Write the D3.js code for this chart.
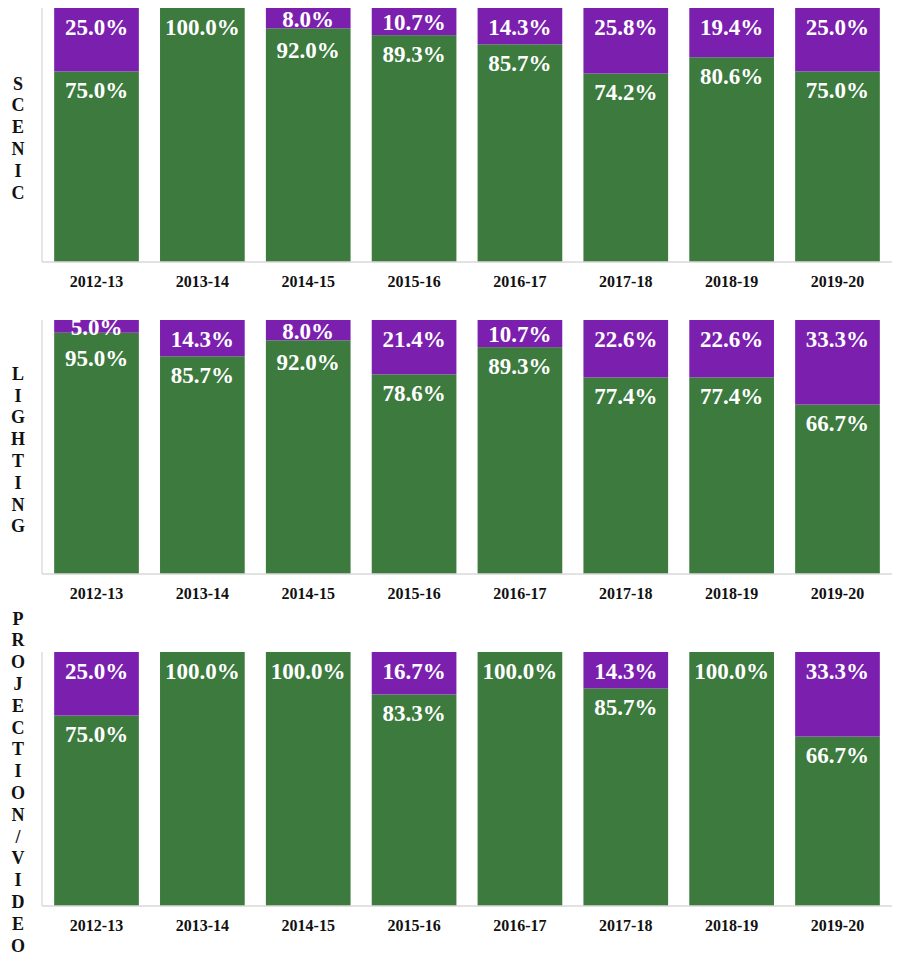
<!DOCTYPE html>
<html>
<head>
<meta charset="utf-8">
<script src="https://cdn.jsdelivr.net/npm/d3@7"></script>
<style>
  html, body { margin: 0; padding: 0; background: #ffffff; }
  svg { display: block; }
  text { font-family: "Liberation Serif", "Times New Roman", serif; font-weight: bold; }
</style>
</head>
<body>
<svg id="chart" width="898" height="956"></svg>
<script>
const years = ["2012-13", "2013-14", "2014-15", "2015-16", "2016-17", "2017-18", "2018-19", "2019-20"];
const panelNames = ["SCENIC", "LIGHTING", "PROJECTION/VIDEO"];
const scenicGreen = [75.0, 100.0, 92.0, 89.3, 85.7, 74.2, 80.6, 75.0];
const scenicPurple = [25.0, 0, 8.0, 10.7, 14.3, 25.8, 19.4, 25.0];
const lightingGreen = [95.0, 85.7, 92.0, 78.6, 89.3, 77.4, 77.4, 66.7];
const lightingPurple = [5.0, 14.3, 8.0, 21.4, 10.7, 22.6, 22.6, 33.3];
const projectionGreen = [75.0, 100.0, 100.0, 83.3, 100.0, 85.7, 100.0, 66.7];
const projectionPurple = [25.0, 0, 0, 16.7, 0, 14.3, 0, 33.3];

const greenSeries = [scenicGreen, lightingGreen, projectionGreen];
const purpleSeries = [scenicPurple, lightingPurple, projectionPurple];

const GREEN = "#3c7a3e";
const PURPLE = "#7b1fae";
const AXIS = "#d9d9d9";

const svg = d3.select("#chart");
const panelTops = [8, 320, 652];
const plotH = 254;
const x = d3.scaleBand().domain(years).range([42, 892]).paddingInner(0.2).paddingOuter(0.115);

panelNames.forEach((name, pi) => {
  const top = panelTops[pi];
  const base = top + plotH;
  const y = d3.scaleLinear().domain([0, 100]).range([base, top]);
  const g = svg.append("g");

  // axis lines
  g.append("line").attr("x1", 42).attr("x2", 42).attr("y1", top).attr("y2", base)
    .attr("stroke", AXIS).attr("stroke-width", 1.3);

  const data = years.map((yr, i) => ({ yr, green: greenSeries[pi][i], purple: purpleSeries[pi][i] }));

  // green bars
  g.selectAll("rect.green").data(data).enter().append("rect")
    .attr("class", "green")
    .attr("x", d => x(d.yr)).attr("width", x.bandwidth())
    .attr("y", d => y(d.green)).attr("height", d => y(0) - y(d.green))
    .attr("fill", GREEN);
  // purple bars
  g.selectAll("rect.purple").data(data.filter(d => d.purple > 0)).enter().append("rect")
    .attr("class", "purple")
    .attr("x", d => x(d.yr)).attr("width", x.bandwidth())
    .attr("y", d => y(d.green + d.purple)).attr("height", d => y(d.green) - y(d.green + d.purple))
    .attr("fill", PURPLE);

  // x axis
  const xAxis = d3.axisBottom(x).tickSize(0).tickPadding(0);
  const ax = g.append("g").attr("transform", `translate(0,${base})`).call(xAxis);
  ax.select(".domain").attr("stroke", AXIS).attr("stroke-width", 1.3).attr("d", `M42,0H892`);
  ax.selectAll("text").attr("font-size", 16).attr("fill", "#111")
    .attr("font-family", "'Liberation Serif', 'Times New Roman', serif").attr("font-weight", "bold")
    .attr("dy", null).attr("y", 19).attr("dominant-baseline", "central");

  // labels
  data.forEach(d => {
    const cx = x(d.yr) + x.bandwidth() / 2;
    let pY = null;
    if (d.purple > 0) {
      const pTop = y(d.green + d.purple);
      const h = y(d.green) - pTop;
      pY = pTop + Math.min(19, h / 2 + 1);
      g.append("text").attr("x", cx).attr("y", pY)
        .attr("text-anchor", "middle").attr("dominant-baseline", "central")
        .attr("font-size", 23).attr("fill", "#ffffff")
        .text(d.purple.toFixed(1) + "%");
    }
    const gTop = y(d.green);
    let gY = gTop + 19;
    if (pY !== null) gY = Math.max(gY, pY + 31);
    g.append("text").attr("x", cx).attr("y", gY)
      .attr("text-anchor", "middle").attr("dominant-baseline", "central")
      .attr("font-size", 23).attr("fill", "#ffffff")
      .text(d.green.toFixed(1) + "%");
  });

  // vertical stacked-letter label
  const letters = name.split("");
  const spacing = 21.8;
  const centerY = (top + base) / 2 + 3;
  const startY = centerY - (letters.length - 1) * spacing / 2;
  g.selectAll("text.vl").data(letters).enter().append("text")
    .attr("class", "vl")
    .attr("x", 18).attr("y", (c, i) => startY + i * spacing)
    .attr("text-anchor", "middle").attr("dominant-baseline", "central")
    .attr("font-size", 18).attr("fill", "#111")
    .text(c => c);
});
</script>
</body>
</html>
